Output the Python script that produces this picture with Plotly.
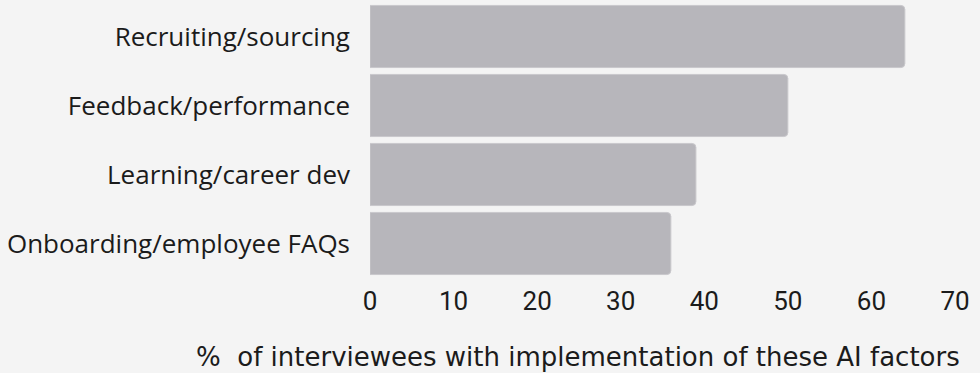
import plotly.graph_objects as go

# Share of interviewees reporting AI implementation, by HR area
categories = ["Recruiting/sourcing", "Feedback/performance", "Learning/career dev", "Onboarding/employee FAQs"]
values = [64, 50, 39, 36]
x_ticks = [0, 10, 20, 30, 40, 50, 60, 70]
x_title = "%  of interviewees with implementation of these AI factors"

BG = "#f4f4f4"
BAR = "#b7b6bb"
TEXT = "#1b1b1b"

fig = go.Figure(
    go.Bar(
        x=values,
        y=categories,
        orientation="h",
        marker=dict(color=BAR, line=dict(color="#c9c8cc", width=1), cornerradius=4),
        hoverinfo="skip",
    )
)

fig.update_layout(
    width=980,
    height=373,
    paper_bgcolor=BG,
    plot_bgcolor=BG,
    margin=dict(l=370, r=25, t=1.5, b=94.5),
    bargap=0.1,
    showlegend=False,
    font=dict(family="Open Sans, sans-serif", color=TEXT),
)

fig.update_xaxes(
    range=[0, 70],
    tickvals=x_ticks,
    ticktext=[str(t) for t in x_ticks],
    showgrid=False,
    zeroline=False,
    showline=False,
    ticks="",
    ticklabelstandoff=5,
    tickfont=dict(family="Roboto, sans-serif", size=26, color=TEXT),
)

fig.update_yaxes(
    categoryorder="array",
    categoryarray=categories[::-1],
    showgrid=False,
    zeroline=False,
    showline=False,
    ticks="",
    ticklabelstandoff=19,
    tickfont=dict(family="Open Sans, sans-serif", size=26, color=TEXT),
)

fig.add_annotation(
    text=x_title,
    xref="paper",
    yref="paper",
    x=(578 - 370) / 585,
    y=-0.285,
    xanchor="center",
    yanchor="middle",
    showarrow=False,
    font=dict(family="DejaVu Sans, sans-serif", size=26, color=TEXT),
)

fig.write_html("out.html")
